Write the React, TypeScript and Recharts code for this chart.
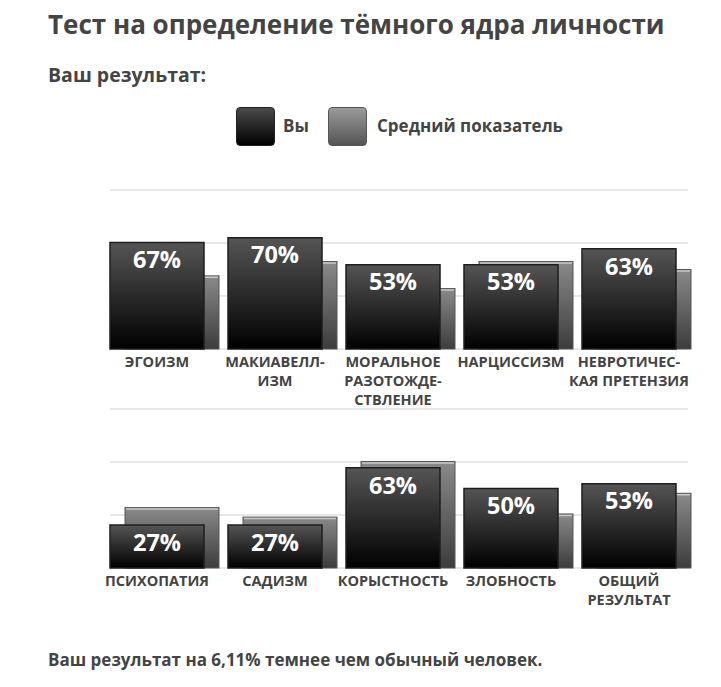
import React from 'react';
import { BarChart, Bar, XAxis, YAxis, CartesianGrid, LabelList } from 'recharts';

const topCategories = ['ЭГОИЗМ', 'МАКИАВЕЛЛ-\nИЗМ', 'МОРАЛЬНОЕ\nРАЗОТОЖДЕ-\nСТВЛЕНИЕ', 'НАРЦИССИЗМ', 'НЕВРОТИЧЕС-\nКАЯ ПРЕТЕНЗИЯ'];
const topYou = [67, 70, 53, 53, 63];
const topAvg = [46, 55, 38, 55, 50];

const bottomCategories = ['ПСИХОПАТИЯ', 'САДИЗМ', 'КОРЫСТНОСТЬ', 'ЗЛОБНОСТЬ', 'ОБЩИЙ\nРЕЗУЛЬТАТ'];
const bottomYou = [27, 27, 63, 50, 53];
const bottomAvg = [38, 32, 67, 34, 47];

const gridTicks = [100 / 3, 200 / 3, 100];

const textColor = '#444';

const buildRows = (names: string[], you: number[], avg: number[]) =>
  names.map((name, i) => ({ name, you: you[i], avg: avg[i] }));

const CategoryTick = (props: any) => {
  const { x, y, payload } = props;
  const lines = String(payload.value).split('\n');
  return (
    <text x={x} y={y} textAnchor="middle" fill={textColor} fontSize={14.5} fontWeight={700}>
      {lines.map((line, i) => (
        <tspan key={i} x={x} dy={i === 0 ? 10 : 19}>
          {line}
        </tspan>
      ))}
    </text>
  );
};

const AvgShape = (props: any) => {
  const { x, y, width, height } = props;
  if (!height || height <= 0) return null;
  return (
    <g>
      <rect x={x} y={y} width={width} height={height} fill="url(#avgGrad)" stroke="#555" strokeWidth={1} />
      <line x1={x + 1} x2={x + width - 1} y1={y + 1.5} y2={y + 1.5} stroke="#c8c8c8" strokeWidth={1.5} />
    </g>
  );
};

const Gradients = () => (
  <defs>
    <linearGradient id="youGrad" x1="0" y1="0" x2="0" y2="1">
      <stop offset="0%" stopColor="#555" />
      <stop offset="100%" stopColor="#000" />
    </linearGradient>
    <linearGradient id="avgGrad" x1="0" y1="0" x2="0" y2="1">
      <stop offset="0%" stopColor="#8a8a8a" />
      <stop offset="100%" stopColor="#3c3c3c" />
    </linearGradient>
  </defs>
);

const ScoreChart = ({ data }: { data: { name: string; you: number; avg: number }[] }) => (
  <BarChart width={721} height={230} data={data} margin={{ top: 10, right: 18, left: 98, bottom: 0 }}>
    <Gradients />
    <CartesianGrid vertical={false} x={110} width={578} stroke="#e8e8e8" strokeWidth={2} />
    <XAxis
      xAxisId="you"
      dataKey="name"
      height={61}
      interval={0}
      tickLine={false}
      axisLine={false}
      padding={{ left: 0, right: 15 }}
      tick={<CategoryTick />}
    />
    <XAxis xAxisId="avg" dataKey="name" hide height={0} padding={{ left: 15, right: 0 }} />
    <YAxis hide domain={[0, 100]} ticks={gridTicks} />
    <Bar xAxisId="avg" dataKey="avg" barSize={94} shape={<AvgShape />} isAnimationActive={false} />
    <Bar xAxisId="you" dataKey="you" barSize={94} fill="url(#youGrad)" stroke="#1e1e1e" strokeWidth={1.5} isAnimationActive={false}>
      <LabelList
        dataKey="you"
        position="insideTop"
        offset={9}
        fill="#fff"
        fontSize={23.5}
        fontWeight={700}
        formatter={(v: any) => `${v}%`}
      />
    </Bar>
  </BarChart>
);

const LegendBox = ({ from, to, border }: { from: string; to: string; border: string }) => (
  <div
    style={{
      width: 37,
      height: 37,
      borderRadius: 4,
      border: `1px solid ${border}`,
      background: `linear-gradient(to bottom, ${from}, ${to})`,
    }}
  />
);

export default function App() {
  const topData = buildRows(topCategories, topYou, topAvg);
  const bottomData = buildRows(bottomCategories, bottomYou, bottomAvg);

  return (
    <div
      style={{
        position: 'absolute',
        left: 0,
        top: 0,
        width: 721,
        height: 687,
        background: '#fff',
        fontFamily: '"Open Sans", sans-serif',
        color: textColor,
        fontWeight: 700,
      }}
    >
      <div style={{ position: 'absolute', left: 48, top: 11, fontSize: 26, lineHeight: '26px', whiteSpace: 'nowrap' }}>
        Тест на определение тёмного ядра личности
      </div>
      <div style={{ position: 'absolute', left: 48, top: 65, fontSize: 19.5, lineHeight: '19.5px' }}>Ваш результат:</div>

      <div style={{ position: 'absolute', left: 236, top: 107 }}>
        <LegendBox from="#4a4a4a" to="#000" border="#222" />
      </div>
      <div style={{ position: 'absolute', left: 283, top: 117, fontSize: 17, lineHeight: '17px' }}>Вы</div>
      <div style={{ position: 'absolute', left: 328, top: 107 }}>
        <LegendBox from="#9a9a9a" to="#555" border="#555" />
      </div>
      <div style={{ position: 'absolute', left: 377, top: 117, fontSize: 17, lineHeight: '17px' }}>
        Средний показатель
      </div>

      <div style={{ position: 'absolute', left: 0, top: 180 }}>
        <ScoreChart data={topData} />
      </div>
      <div style={{ position: 'absolute', left: 0, top: 399 }}>
        <ScoreChart data={bottomData} />
      </div>

      <div style={{ position: 'absolute', left: 48, top: 651, fontSize: 17, lineHeight: '17px', whiteSpace: 'nowrap' }}>
        Ваш результат на 6,11% темнее чем обычный человек.
      </div>
    </div>
  );
}
